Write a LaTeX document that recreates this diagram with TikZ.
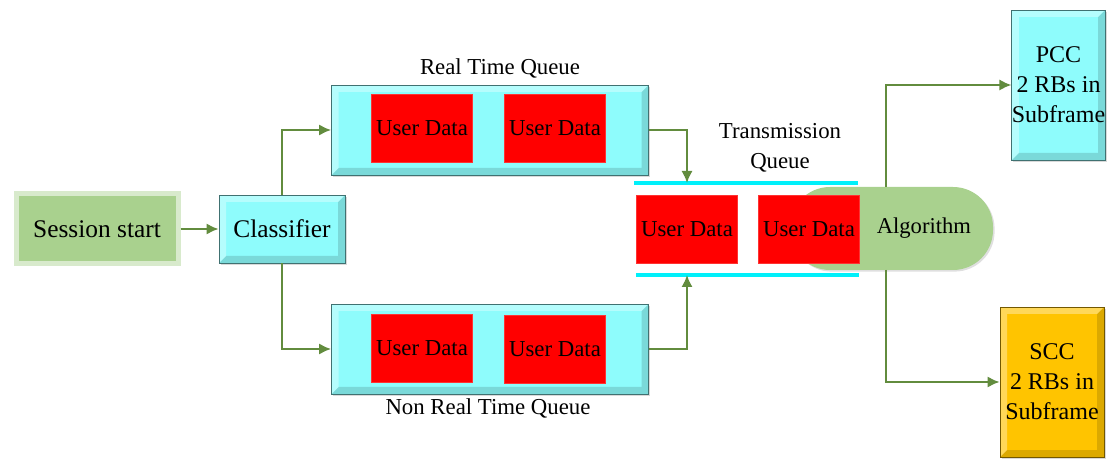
\documentclass[tikz,border=0pt]{standalone}
\usepackage{fontspec}
\setmainfont{Liberation Serif}
\usetikzlibrary{arrows.meta,shadows}

\definecolor{boxcyan}{RGB}{142,252,252}
\definecolor{linecyan}{RGB}{0,240,250}
\definecolor{datared}{RGB}{255,0,0}
\definecolor{startgreen}{RGB}{169,209,142}
\definecolor{flowgreen}{RGB}{98,140,62}
\definecolor{sccgold}{RGB}{255,196,0}

\begin{document}
\begin{tikzpicture}[x=0.5pt,y=-0.5pt, >={Latex[length=6pt,width=5.6pt]},
  flow/.style={->, draw=flowgreen, line width=1pt},
  bevel/.style={fill=#1, draw=#1!45!black, line width=0.4pt,
    drop shadow={shadow xshift=0.8pt, shadow yshift=-0.8pt, opacity=0.3},
    path picture={
      \fill[#1!70!black, opacity=0.45] (path picture bounding box.south west)
        -- (path picture bounding box.south east) -- (path picture bounding box.north east)
        -- ([shift={(-3.5pt,-3.5pt)}]path picture bounding box.north east)
        -- ([shift={(-3.5pt,3.5pt)}]path picture bounding box.south east)
        -- ([shift={(3.5pt,3.5pt)}]path picture bounding box.south west) -- cycle;
      \fill[white, opacity=0.35] (path picture bounding box.south west)
        -- (path picture bounding box.north west) -- (path picture bounding box.north east)
        -- ([shift={(-3.5pt,-3.5pt)}]path picture bounding box.north east)
        -- ([shift={(3.5pt,-3.5pt)}]path picture bounding box.north west)
        -- ([shift={(3.5pt,3.5pt)}]path picture bounding box.south west) -- cycle;}},
  userdata/.style={fill=datared, draw=datared!80!white, line width=0.3pt,
    minimum width=50.5pt, minimum height=34pt, inner sep=0pt,
    font=\fontsize{11.4}{13}\selectfont},
  txt/.style={font=\fontsize{11.4}{15}\selectfont, align=center, inner sep=0pt}]
\useasboundingbox (0,0) rectangle (1108,459);

% source and classifier
\node[fill=startgreen, draw=startgreen!45!white, line width=2.5pt,
  minimum width=81pt, minimum height=35pt, font=\fontsize{12.7}{14}\selectfont]
  (ss) at (97,229) {Session start};
\node[bevel=boxcyan, minimum width=63pt, minimum height=34pt,
  font=\fontsize{12.7}{14}\selectfont] (cls) at (282,229) {Classifier};
\draw[flow] (ss) -- (cls);

% the two queues
\node[bevel=boxcyan, minimum width=158.5pt, minimum height=45pt] (rtq) at (490,130) {};
\node[userdata] (rtq1) at (422,128) {User Data};
\node[userdata] (rtq2) at (555,128) {User Data};
\node[txt] (rtlbl) at (500,68) {Real Time Queue};

\node[bevel=boxcyan, minimum width=158.5pt, minimum height=45pt] (nrtq) at (490,349) {};
\node[userdata] (nrtq1) at (422,348) {User Data};
\node[userdata] (nrtq2) at (555,349) {User Data};
\node[txt] (nrtlbl) at (488,408) {Non Real Time Queue};

\draw[flow] (cls.north) |- (rtq.west);
\draw[flow] (cls.south) |- (nrtq.west);

% transmission queue
\coordinate (txin) at (687,183);
\coordinate (txout) at (687,275);
\draw[linecyan, line width=1.6pt] (634,183) -- (858,183);
\draw[linecyan, line width=1.6pt] (636,275) -- (859,275);
\node[txt] (txlbl) at (780,148) {Transmission\\Queue};
\draw[flow] (rtq.east) -| (txin);
\draw[flow] (nrtq.east) -| (txout);

\node[fill=startgreen, rounded corners=20pt, minimum height=41.5pt,
  text width=79.5pt, inner xsep=11pt, align=right,
  drop shadow={shadow xshift=0.8pt, shadow yshift=-0.8pt, opacity=0.25},
  font=\fontsize{11.3}{13}\selectfont] (alg) at (891.5,228.5) {Algorithm};
\node[userdata] (tx1) at (687,229) {User Data};
\node[userdata] (tx2) at (809,229) {User Data};

% component carriers
\node[bevel=boxcyan, minimum width=46.5pt, minimum height=75pt, txt,
  font=\fontsize{12}{15}\selectfont] (pcc) at (1058.5,85) {PCC\\2 RBs in\\Subframe};
\node[bevel=sccgold, minimum width=52pt, minimum height=75pt, txt,
  font=\fontsize{12}{15}\selectfont] (scc) at (1052,382) {SCC\\2 RBs in\\Subframe};

\coordinate (algtop) at (886,187);
\coordinate (algbot) at (886,270);
\draw[flow] (algtop) |- (pcc.west);
\draw[flow] (algbot) |- (scc.west);
\end{tikzpicture}
\end{document}
